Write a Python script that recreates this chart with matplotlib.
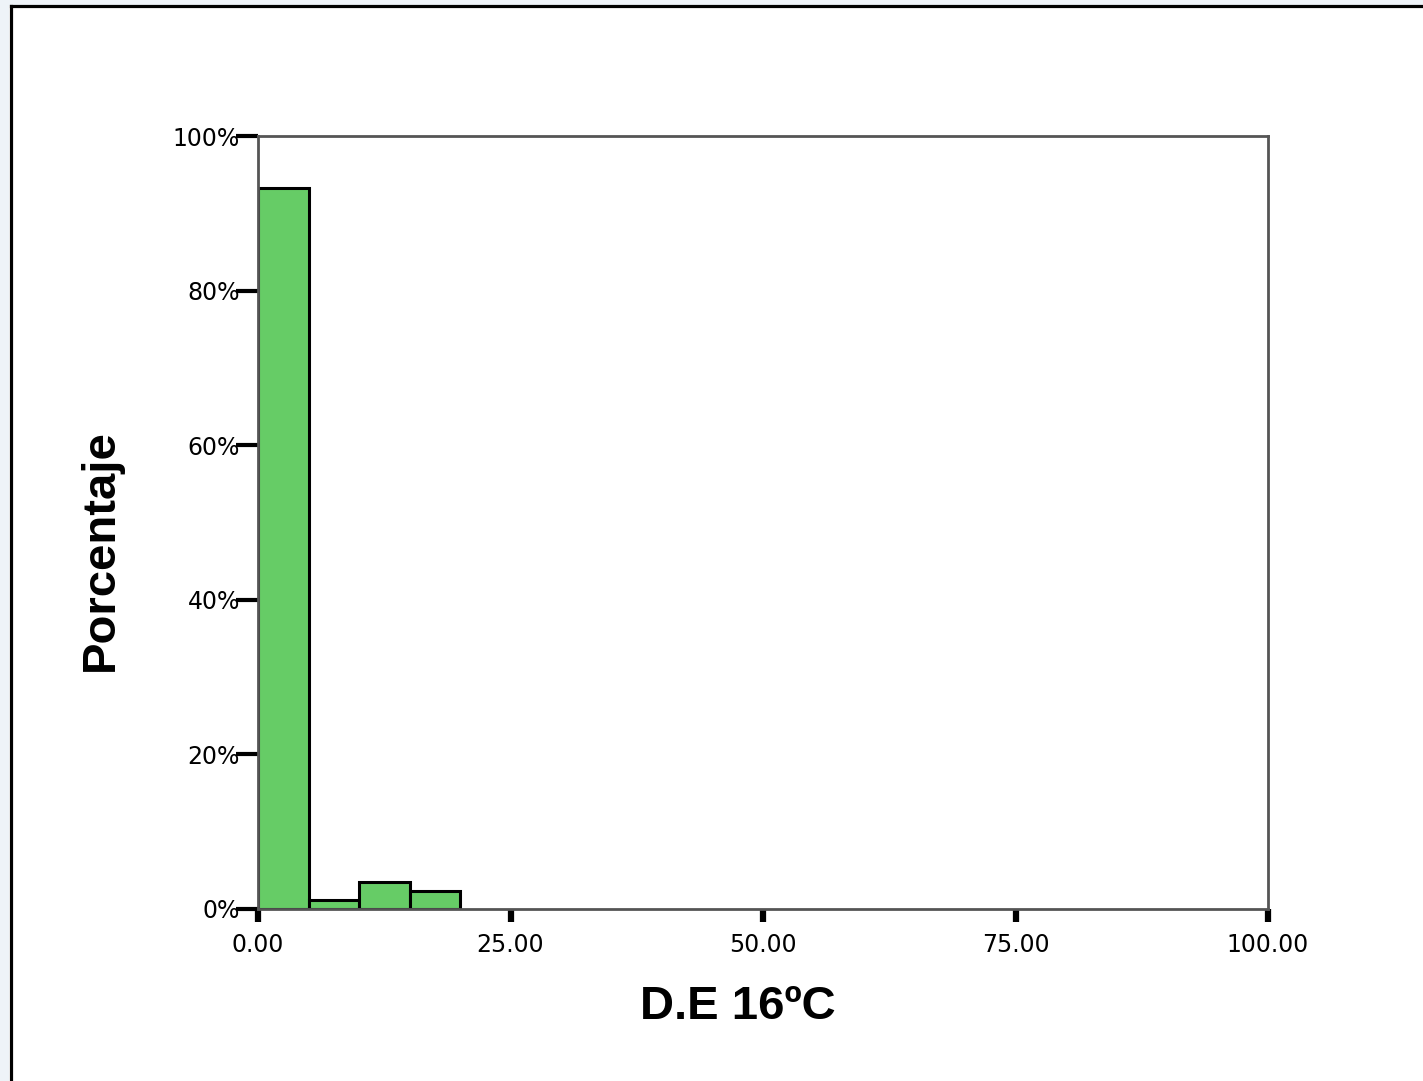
import matplotlib
matplotlib.use("Agg")
import matplotlib.pyplot as plt
from matplotlib.patches import Rectangle
from matplotlib.lines import Line2D

# histogram data (percent per bin of width 5)
bin_edges = [0, 5, 10, 15]
bin_width = 5
percents = [93.3, 1.2, 3.45, 2.35]

x_ticks = [0, 25, 50, 75, 100]
x_tick_labels = ["0.00", "25.00", "50.00", "75.00", "100.00"]
y_ticks = [0, 20, 40, 60, 80, 100]
y_tick_labels = ["0%", "20%", "40%", "60%", "80%", "100%"]

W, H = 1423, 1081
fig = plt.figure(figsize=(W / 100, H / 100), dpi=100)
fig.patch.set_facecolor("white")

# outer frame like the exported SPSS chart
bg = "#eef3f8"
fig.patches.append(Rectangle((0, 0), 9 / W, 1, transform=fig.transFigure,
                             facecolor=bg, edgecolor="none", zorder=0))
fig.patches.append(Rectangle((0, 1 - 5 / H), 1, 5 / H, transform=fig.transFigure,
                             facecolor=bg, edgecolor="none", zorder=0))
fig.lines.append(Line2D([10.5 / W, 10.5 / W], [0, 1 - 6 / H], transform=fig.transFigure,
                        color="black", lw=2.3))
fig.lines.append(Line2D([10.5 / W, 1], [1 - 6 / H, 1 - 6 / H], transform=fig.transFigure,
                        color="black", lw=2.3))

ax = fig.add_axes([258 / W, 172 / H, 1010 / W, 773 / H])
ax.bar(bin_edges, percents, width=bin_width, align="edge",
       color="#66cc66", edgecolor="black", linewidth=2.2, zorder=3)

ax.set_xlim(0, 100)
ax.set_ylim(0, 100)
ax.set_xticks(x_ticks)
ax.set_xticklabels(x_tick_labels)
ax.set_yticks(y_ticks)
ax.set_yticklabels(y_tick_labels)

for s in ax.spines.values():
    s.set_color("#555555")
    s.set_linewidth(2)
    s.set_zorder(4)

ax.tick_params(axis="y", direction="out", length=16, width=3, color="black",
               pad=-3, labelsize=17)
ax.tick_params(axis="x", direction="out", length=9, width=4.5, color="black",
               pad=8, labelsize=17)
for lab in ax.get_xticklabels() + ax.get_yticklabels():
    lab.set_family("DejaVu Sans")

fig.text(101 / W, 1 - 550 / H, "Porcentaje", rotation=90, ha="center", va="center",
         fontsize=34, fontweight="bold", family="Liberation Sans")
fig.text(738 / W, 1 - 1007 / H, "D.E 16ºC", ha="center", va="center",
         fontsize=34, fontweight="bold", family="Liberation Sans")

fig.savefig("out.png", dpi=100)
